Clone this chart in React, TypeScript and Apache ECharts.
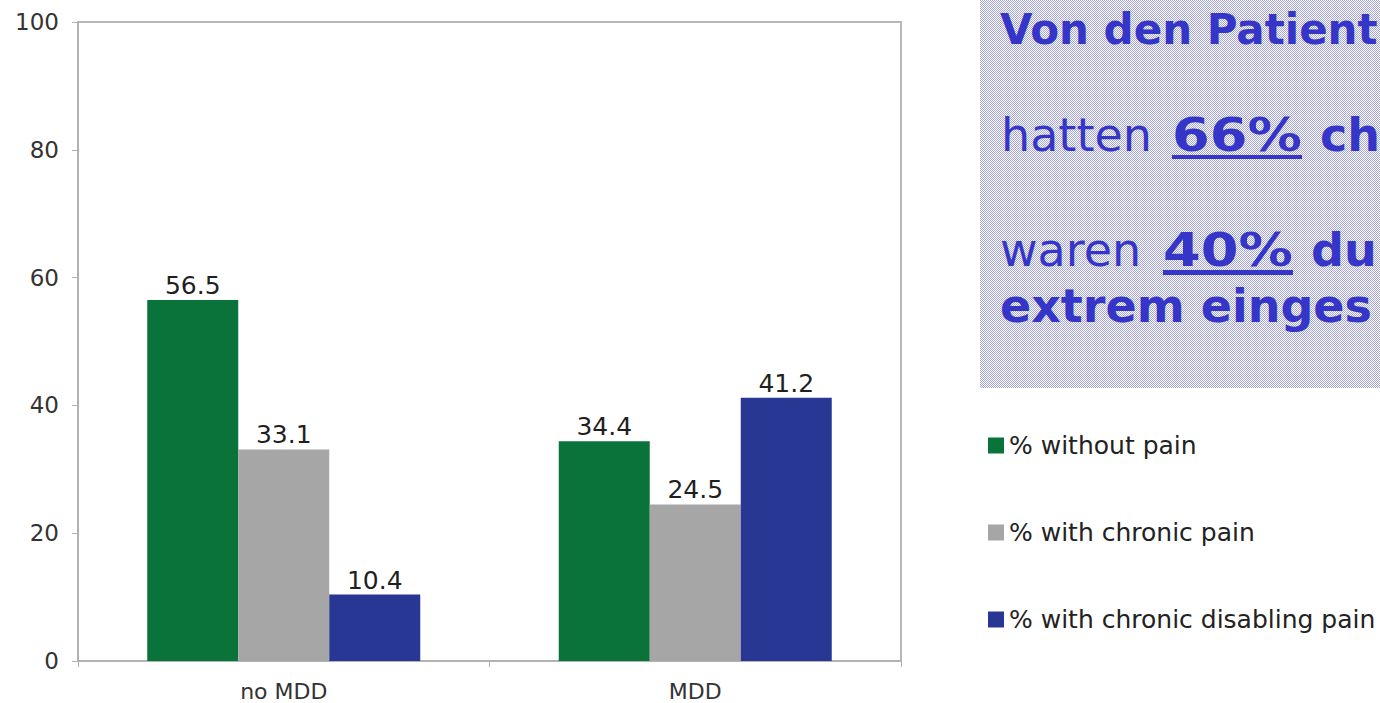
import React, { useEffect, useRef } from "react";
import * as echarts from "echarts";

const categories = ["no MDD", "MDD"];
const seriesNames = ["% without pain", "% with chronic pain", "% with chronic disabling pain"];
const withoutPain = [56.5, 34.4];
const chronicPain = [33.1, 24.5];
const disablingPain = [10.4, 41.2];
const seriesColors = ["#0a7339", "#a6a6a6", "#283694"];
const yTicks = [0, 20, 40, 60, 80, 100];

const FONT = "'DejaVu Sans', Verdana, sans-serif";
const TXT = "#3535c8";

function measure(text: string, font: string): number {
  const c = document.createElement("canvas");
  const ctx = c.getContext("2d")!;
  ctx.font = font;
  return ctx.measureText(text).width;
}

export default function App() {
  const ref = useRef<HTMLDivElement>(null);
  useEffect(() => {
    document.body.style.margin = "0";
    if (!ref.current) return;
    const chart = echarts.init(ref.current, null, { renderer: "svg" });

    const pc = document.createElement("canvas");
    pc.width = 4;
    pc.height = 4;
    const pctx = pc.getContext("2d")!;
    pctx.fillStyle = "#ffffff";
    pctx.fillRect(0, 0, 4, 4);
    pctx.fillStyle = "#a4a4dc";
    for (let y = 0; y < 4; y++)
      for (let x = 0; x < 4; x++) if ((x + y) % 2 === 0) pctx.fillRect(x, y, 1, 1);

    const bigN = 46;
    const fB = `bold ${bigN}px 'DejaVu Sans'`;
    const x0 = 1001;
    const w66 = measure("66%", fB);
    const w40 = measure("40%", fB);
    const wSp = measure(" ", fB);

    // positions of the bold underlined numbers
    const n1x = 1172, n1w = 130;
    const n2x = 1163, n2w = 130;

    const normal = (text: string, x: number, y: number) => ({
      type: "text",
      x,
      y,
      style: { text, fontFamily: FONT, fontSize: bigN, fill: TXT, verticalAlign: "middle" },
    });
    const bold = (text: string, x: number, y: number, sx = 1, size = bigN) => ({
      type: "text",
      x,
      y,
      scaleX: sx,
      style: {
        text,
        fontFamily: FONT,
        fontSize: size,
        fontWeight: "bold",
        fill: TXT,
        verticalAlign: "middle",
      },
    });

    const mkSeries = (i: number, data: number[]) => ({
      name: seriesNames[i],
      type: "bar",
      data,
      barWidth: 91,
      barGap: "0%",
      itemStyle: { color: seriesColors[i] },
      label: {
        show: true,
        position: "top",
        distance: 2,
        fontFamily: FONT,
        fontSize: 25,
        color: "#1f1f1f",
        formatter: (p: any) => p.value.toFixed(1),
      },
    });

    chart.setOption({
      animation: false,
      backgroundColor: "#ffffff",
      grid: {
        left: 78,
        right: 479,
        top: 22,
        bottom: 42,
        show: true,
        borderColor: "#b8b8b8",
        borderWidth: 2,
        backgroundColor: "transparent",
      },
      legend: {
        orient: "vertical",
        left: 983,
        top: 428,
        itemWidth: 16,
        itemHeight: 16,
        itemGap: 62,
        icon: "rect",
        data: seriesNames,
        textStyle: { fontFamily: FONT, fontSize: 25, color: "#222" },
      },
      xAxis: {
        type: "category",
        data: categories,
        axisLine: { lineStyle: { color: "#b0b0b0", width: 1.5 } },
        axisTick: { show: true, length: 6, lineStyle: { color: "#b0b0b0" } },
        axisLabel: { fontFamily: FONT, fontSize: 22, color: "#333", margin: 19 },
      },
      yAxis: {
        type: "value",
        min: yTicks[0],
        max: yTicks[yTicks.length - 1],
        interval: 20,
        axisLine: { show: true, lineStyle: { color: "#b0b0b0", width: 1.5 } },
        axisTick: { show: true, length: 6, lineStyle: { color: "#b0b0b0" } },
        splitLine: { show: false },
        axisLabel: { fontFamily: FONT, fontSize: 23, color: "#333", margin: 19 },
      },
      series: [mkSeries(0, withoutPain), mkSeries(1, chronicPain), mkSeries(2, disablingPain)],
      graphic: [
        {
          type: "rect",
          z: -1,
          shape: { x: 980, y: 0, width: 400, height: 388 },
          style: { fill: { image: pc, repeat: "repeat", imageWidth: 4, imageHeight: 4 } as any },
        },
        bold("Von den Patient", x0 - 1, 29, 1, 42),
        normal("hatten", x0, 135),
        bold("66%", n1x, 135, n1w / w66),
        bold("ch", n1x + n1w + wSp + 2, 135),
        { type: "rect", shape: { x: n1x, y: 155, width: n1w, height: 4 }, style: { fill: TXT } },
        normal("waren", x0 - 1, 250),
        bold("40%", n2x, 250, n2w / w40),
        bold("du", n2x + n2w + wSp + 2, 250),
        { type: "rect", shape: { x: n2x, y: 270, width: n2w, height: 5 }, style: { fill: TXT } },
        bold("extrem einges", x0 - 1, 306),
      ],
    } as any);
    return () => chart.dispose();
  }, []);
  return <div ref={ref} style={{ width: 1380, height: 703, overflow: "hidden" }} />;
}
